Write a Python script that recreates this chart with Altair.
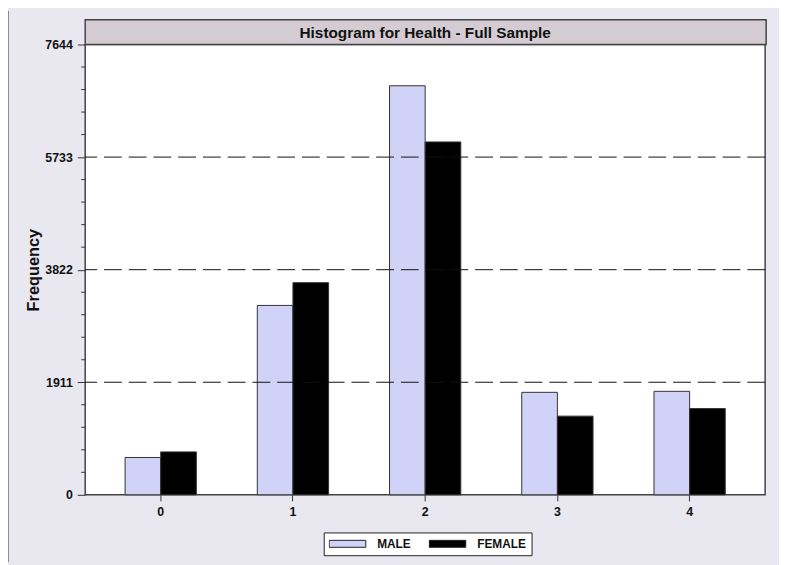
import altair as alt
import pandas as pd

categories = ["0", "1", "2", "3", "4"]
male = [634, 3215, 6944, 1740, 1757]
female = [729, 3601, 5990, 1336, 1464]
groups = ["MALE", "FEMALE"]
grid_values = [1911, 3822, 5733]
major_ticks = [0, 1911, 3822, 5733, 7644]
title_text = "Histogram for Health - Full Sample"
y_title = "Frequency"

W, H = 687, 455
FONT = "Liberation Sans, Arial, sans-serif"

rows = []
for c, m, f in zip(categories, male, female):
    rows.append({"cat": c, "sex": "MALE", "freq": m})
    rows.append({"cat": c, "sex": "FEMALE", "freq": f})
df = pd.DataFrame(rows)

# minor tick positions (five intervals between each labelled tick)
minor_ticks = [i * 1911 / 5 for i in range(21) if i % 5 != 0]

yscale = alt.Scale(domain=[0, 7644], nice=False, zero=True)

yaxis = alt.Axis(
    values=major_ticks,
    format="d",
    tickSize=8,
    tickColor="#333",
    domain=False,
    grid=False,
    labelFont=FONT,
    labelFontSize=12.5,
    labelFontWeight="bold",
    labelColor="#111",
    labelPadding=5,
    labelOverlap=False,
    labelFlush=False,
    title=y_title,
    titleFont=FONT,
    titleFontSize=16.5,
    titleFontWeight="bold",
    titleColor="#111",
    titleX=-44,
    titleY=227.5,
    titleAlign="center",
)

xaxis = alt.Axis(
    labelAngle=0,
    tickSize=6,
    tickColor="#333",
    domain=False,
    labelFont=FONT,
    labelFontSize=12.5,
    labelFontWeight="bold",
    labelColor="#111",
    labelPadding=5,
    title=None,
)

bars = alt.Chart(df).mark_bar(stroke="#333", strokeWidth=1).encode(
    x=alt.X("cat:N", sort=categories, axis=xaxis,
            scale=alt.Scale(paddingInner=0.461, paddingOuter=0.3016)),
    xOffset=alt.XOffset("sex:N", sort=groups, scale=alt.Scale(paddingInner=0, paddingOuter=0)),
    y=alt.Y("freq:Q", scale=yscale, axis=yaxis, title=y_title),
    fill=alt.Fill("sex:N", sort=groups,
                  scale=alt.Scale(domain=groups, range=["#D0D2F8", "#000000"]),
                  legend=alt.Legend(
                      orient="none", legendX=241, legendY=493,
                      direction="horizontal", title=None,
                      padding=5, strokeColor="#222", fillColor="white",
                      symbolType="M-1,-0.19L1,-0.19L1,0.19L-1,0.19Z",
                      symbolSize=1369, symbolStrokeColor="#222", symbolStrokeWidth=1,
                      clipHeight=13,
                      labelFont=FONT, labelFontSize=12, labelFontWeight="bold",
                      labelColor="#111", labelOffset=11, columnPadding=18,
                  )),
)

grid = alt.Chart(pd.DataFrame({"v": grid_values})).mark_rule(
    color="#111", strokeWidth=1, strokeDash=[18, 7]
).encode(y=alt.Y("v:Q", scale=yscale, axis=yaxis, title=y_title))

minor = alt.Chart(pd.DataFrame({"v": minor_ticks})).mark_rule(
    color="#333", strokeWidth=1
).encode(y=alt.Y("v:Q", scale=yscale, axis=yaxis, title=y_title),
         x=alt.value(-4), x2=alt.value(0))

one = pd.DataFrame({"t": [title_text]})
title_bar = alt.Chart(one).mark_rect(fill="#D5CCD3", stroke="#444", strokeWidth=1.5).encode(
    x=alt.value(0), x2=alt.value(W + 1), y=alt.value(-25), y2=alt.value(0)
)
title_txt = alt.Chart(one).mark_text(
    font=FONT, fontSize=15.5, fontWeight="bold", color="#111", align="center", baseline="middle"
).encode(x=alt.value(W / 2), y=alt.value(-12), text="t:N")

border = alt.Chart(one).mark_rule(color="#8a8a8a", strokeWidth=1).encode(
    x=alt.value(-77.5), y=alt.value(-34), y2=alt.value(H + 68)
)

chart = alt.layer(bars, grid, minor, border, title_bar, title_txt).properties(
    width=W, height=H,
    autosize=alt.AutoSizeParams(type="none"),
    padding={"left": 78, "top": 34, "right": 14, "bottom": 68},
    background="#E9E7EF",
).configure_view(stroke="#444", strokeWidth=1.5, fill="white")

chart.save("out.html", embed_options={"renderer": "svg", "actions": False})
